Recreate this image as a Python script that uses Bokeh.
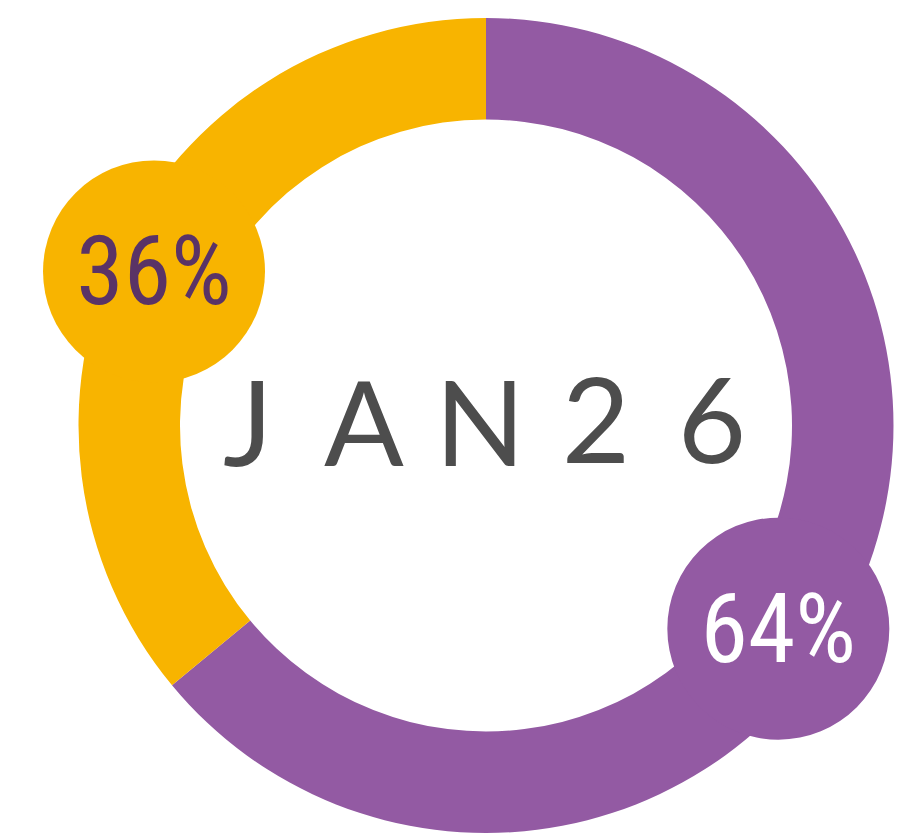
import math
from bokeh.plotting import figure
from bokeh.models import Range1d
from bokeh.core.properties import value
from bokeh.embed import file_html
from bokeh.resources import INLINE

# ---- data ----
labels = ["64%", "36%"]
values = [64, 36]
colors = ["#935AA3", "#F8B400"]
label_colors = ["#FFFFFF", "#5A3366"]
center_text = "JAN26"

# ---- layout ----
W, H = 908, 833
cx, cy = 485.5, H - 425
r_out, r_in = 407.5, 306
bubble_r = 111
bubble_dist = [356, 366]
bubble_offset_deg = [9.6, -0.3]

p = figure(width=W, height=H, output_backend="svg", toolbar_location=None,
           x_range=Range1d(0, W), y_range=Range1d(0, H),
           min_border=0, background_fill_color="white", border_fill_color="white")
p.axis.visible = False
p.grid.visible = False
p.outline_line_color = None

total = float(sum(values))
start = math.pi / 2
starts, ends, bx, by = [], [], [], []
for v, off, d in zip(values, bubble_offset_deg, bubble_dist):
    sweep = v / total * 2 * math.pi
    end = start - sweep
    starts.append(start)
    ends.append(end)
    mid = (start + end) / 2 - math.radians(off)
    bx.append(cx + d * math.cos(mid))
    by.append(cy + d * math.sin(mid))
    start = end

p.annular_wedge(x=[cx] * len(values), y=[cy] * len(values), inner_radius=r_in, outer_radius=r_out,
                start_angle=starts, end_angle=ends, direction="clock",
                fill_color=colors, line_color=None)

p.circle(x=bx, y=by, radius=bubble_r, fill_color=colors, line_color=None)

label_size = 96
p.text(x=bx, y=by, text=labels, text_color=label_colors,
       text_font=value("Roboto Condensed, DejaVu Sans Condensed, Liberation Sans Narrow, Lato"),
       text_font_size=f"{label_size}px",
       text_align="center", text_baseline="middle")

# center text, letter-spaced
jan_size = 118
spacing = 116
n = len(center_text)
xs = [cx - 6 + (i - (n - 1) / 2) * spacing for i in range(n)]
p.text(x=xs, y=[cy + 5] * n, text=list(center_text), text_color="#4D4D4D",
       text_font=value("Lato"), text_font_size=f"{jan_size}px",
       text_align="center", text_baseline="middle")

open("out.html", "w").write(file_html(p, INLINE))
